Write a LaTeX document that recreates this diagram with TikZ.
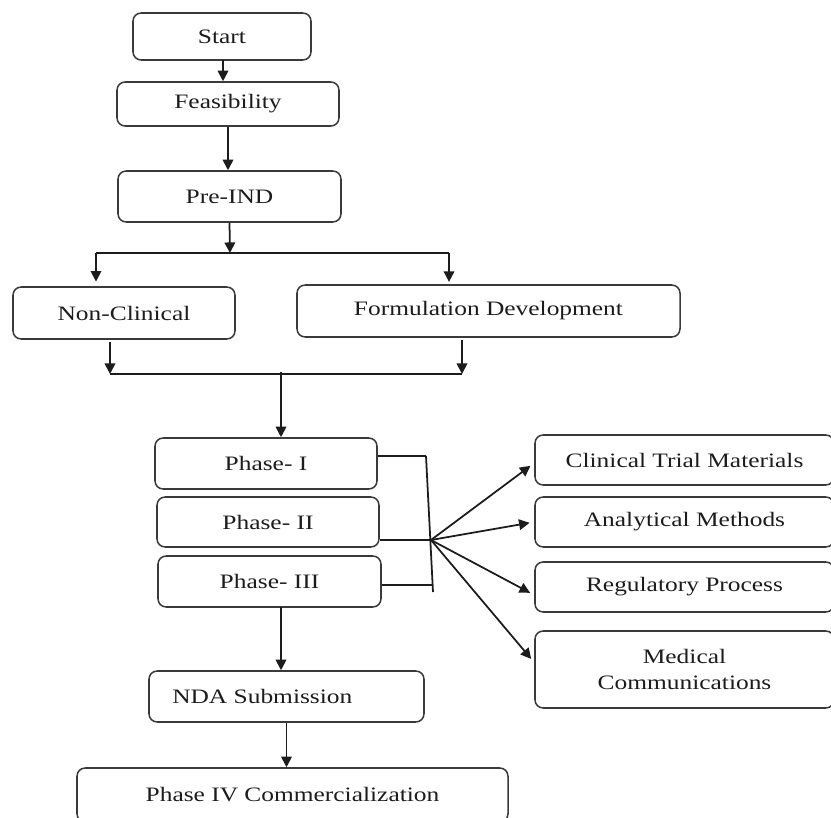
\documentclass[tikz,border=0pt]{standalone}
\usepackage{fontspec}
\setmainfont[FakeStretch=1.24]{Liberation Serif}
\usetikzlibrary{arrows.meta, calc}
\definecolor{tinta}{HTML}{1C1C1C}
\definecolor{borde}{HTML}{3A3A3A}
\tikzset{
  % Cajas del diagrama: rectángulo redondeado con texto centrado
  caja/.style   = {draw=borde, line width=1.3pt, rounded corners=7pt,
                   inner sep=0pt, align=center,
                   font=\fontsize{17.5}{23}\selectfont},
  % Conectores con punta triangular rellena
  flecha/.style = {line width=1.5pt, color=tinta,
                   -{Triangle[length=9pt, width=9pt]}},
  % Tramos sin punta (horquillas y barras)
  linea/.style  = {line width=1.5pt, color=tinta},
  every node/.style = {color=tinta},
}

\begin{document}
\begin{tikzpicture}[x=0.03cm, y=-0.03cm]
  \useasboundingbox (0,0) rectangle (831,818);

  % ============================================================
  % Columna principal: de Start a Pre-IND
  % ============================================================
  \node[caja, minimum width=5.34cm, minimum height=1.41cm] (start)  at (222,36.5) {Start};
  \node[caja, minimum width=6.66cm, minimum height=1.32cm] (feas)   at (228,104)  {Feasibility};
  \node[caja, minimum width=6.69cm, minimum height=1.53cm] (preind) at (229.5,196.5) {Pre-IND};

  \coordinate (s1) at (223,60);
  \draw[flecha] (s1) -- (s1 |- feas.north);
  \draw[flecha] (feas.south) -- (feas.south |- preind.north);

  % ============================================================
  % Bifurcación: Non-Clinical y Formulation Development
  % ============================================================
  \node[caja, minimum width=6.66cm,  minimum height=1.56cm] (noncl)   at (124,313)   {Non-Clinical};
  \node[caja, minimum width=11.49cm, minimum height=1.56cm] (formdev) at (488.5,311) {Formulation Development};

  \coordinate (rama) at (230,253);   % punto de reparto
  \coordinate (ramaI) at (96,253);
  \coordinate (ramaD) at (449,253);
  \draw[flecha] (preind.south) -- (rama);
  \draw[linea] (ramaI) -- (ramaD);
  \draw[flecha, shorten >=4pt] (ramaI) -- (ramaI |- noncl.north);
  \draw[flecha, shorten >=2pt] (ramaD) -- (ramaD |- formdev.north);

  % unión de las dos ramas
  \coordinate (uneI) at (110,374);
  \coordinate (uneD) at (462,374);
  \coordinate (baja) at (281,372);
  \draw[flecha, shorten <=2pt] (uneI |- noncl.south) -- (uneI);
  \draw[flecha, shorten <=2pt] (uneD |- formdev.south) -- (uneD);
  \draw[linea] (uneI) -- (uneD);

  % ============================================================
  % Fases clínicas I--III y sus cuatro salidas
  % ============================================================
  \node[caja, minimum width=6.66cm, minimum height=1.53cm] (ph1) at (266,463.5) {Phase- I};
  \node[caja, minimum width=6.66cm, minimum height=1.50cm] (ph2) at (268,522)   {Phase- II};
  \node[caja, minimum width=6.69cm, minimum height=1.53cm] (ph3) at (269.5,581.5) {Phase- III};

  \draw[flecha] (baja) -- (baja |- ph1.north);

  \coordinate (barra1) at (426,456);
  \coordinate (nudo)   at (431,540);   % de aquí salen las flechas
  \coordinate (barra3) at (433,585);
  \coordinate (barraF) at (433,592);
  \draw[linea] (barra1 -| ph1.east) -- (barra1);
  \draw[linea] (nudo -| ph2.east) -- (nudo);
  \draw[linea] (barra3 -| ph3.east) -- (barra3);
  \draw[linea] (barra1) -- (barraF);

  \node[caja, minimum width=8.97cm, minimum height=1.50cm] (ctm) at (684.5,460)   {Clinical Trial Materials};
  \node[caja, minimum width=8.97cm, minimum height=1.50cm] (am)  at (684.5,522)   {Analytical Methods};
  \node[caja, minimum width=8.97cm, minimum height=1.50cm] (rp)  at (684.5,587)   {Regulatory Process};
  \node[caja, minimum width=8.97cm, minimum height=2.31cm] (mc)  at (684.5,669.5) {Medical\\Communications};

  \draw[flecha, shorten >=4pt] (nudo) -- ($(ctm.west)+(0,3)$);
  \draw[flecha, shorten >=4pt] (nudo) -- (am.west);
  \draw[flecha, shorten >=4pt] (nudo) -- ($(rp.west)+(0,8)$);
  \draw[flecha, shorten >=4pt] (nudo) -- ($(mc.west)+(0,-7)$);

  % ============================================================
  % NDA y Fase IV
  % ============================================================
  \node[caja, minimum width=8.25cm,  minimum height=1.53cm] (nda) at (286.5,696.5) {NDA Submission\hspace*{1.45cm}};
  \node[caja, minimum width=12.93cm, minimum height=1.62cm] (ph4) at (292.5,795)   {Phase IV Commercialization};

  \coordinate (p3s) at (281,607);
  \draw[flecha] (p3s) -- (p3s |- nda.north);
  \draw[flecha] (nda.south) -- (nda.south |- ph4.north);

\end{tikzpicture}
\end{document}
